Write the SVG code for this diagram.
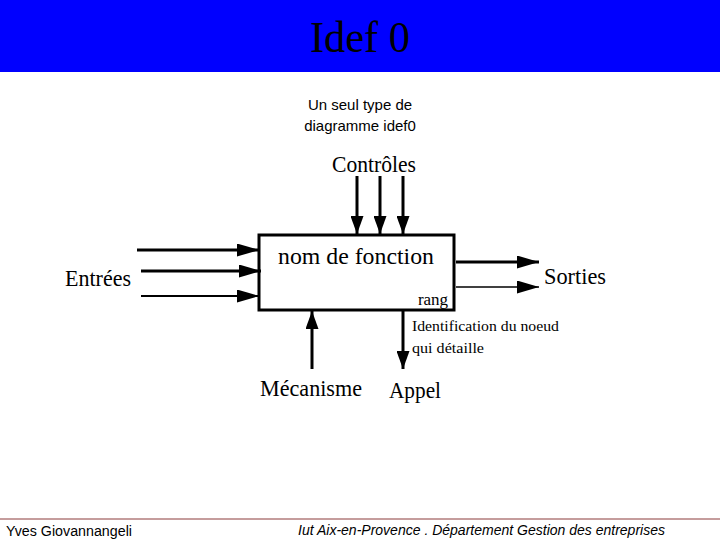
<svg xmlns="http://www.w3.org/2000/svg" width="720" height="540" viewBox="0 0 720 540">
<style>
.s{font-family:"Liberation Serif",serif;fill:#000}
.a{font-family:"Liberation Sans",sans-serif;fill:#000}
.c{stroke:#000;fill:none}
</style>
<defs>
<marker id="ah" viewBox="0 0 22 13" refX="22" refY="6.5" markerWidth="22" markerHeight="13" markerUnits="userSpaceOnUse" orient="auto"><path d="M0,0L22,6.5L0,13z" fill="#000"/></marker>
<marker id="av" viewBox="0 0 18 13" refX="18" refY="6.5" markerWidth="18" markerHeight="13" markerUnits="userSpaceOnUse" orient="auto"><path d="M0,0L18,6.5L0,13z" fill="#000"/></marker>
</defs>
<rect x="0" y="0" width="720" height="72" fill="#0000FF"/>
<text class="s" x="360" y="52" font-size="44" text-anchor="middle" textLength="100" lengthAdjust="spacingAndGlyphs">Idef 0</text>
<text class="a" x="360" y="110" font-size="15" text-anchor="middle">Un seul type de</text>
<text class="a" x="360" y="131" font-size="15" text-anchor="middle">diagramme idef0</text>
<g id="box">
<rect x="259" y="235" width="195" height="75" fill="#fff" stroke="#000" stroke-width="3"/>
<text class="s" x="356" y="264" font-size="24" text-anchor="middle" textLength="156" lengthAdjust="spacingAndGlyphs">nom de fonction</text>
<text class="s" x="433" y="305" font-size="17" text-anchor="middle">rang</text>
</g>
<g id="connectors">
<path class="c" stroke-width="3" d="M357,176V234" marker-end="url(#av)"/>
<path class="c" stroke-width="3" d="M380,176V234" marker-end="url(#av)"/>
<path class="c" stroke-width="3" d="M403,176V234" marker-end="url(#av)"/>
<path class="c" stroke-width="3" d="M137,250H259" marker-end="url(#ah)"/>
<path class="c" stroke-width="3" d="M141,271H261" marker-end="url(#ah)"/>
<path class="c" stroke-width="2" d="M141,296H259" marker-end="url(#ah)"/>
<path class="c" stroke-width="3" d="M456,262H539" marker-end="url(#ah)"/>
<path class="c" stroke-width="1.5" d="M456,287H539" marker-end="url(#ah)"/>
<path class="c" stroke-width="3" d="M312,369V311" marker-end="url(#av)"/>
<path class="c" stroke-width="3" d="M403,311V369" marker-end="url(#av)"/>
</g>
<g id="labels">
<text class="s" x="374" y="172" font-size="23" text-anchor="middle" textLength="84" lengthAdjust="spacingAndGlyphs">Contrôles</text>
<text class="s" x="98" y="286" font-size="23" text-anchor="middle" textLength="66" lengthAdjust="spacingAndGlyphs">Entrées</text>
<text class="s" x="575" y="284" font-size="23" text-anchor="middle" textLength="62" lengthAdjust="spacingAndGlyphs">Sorties</text>
<text class="s" x="412" y="331" font-size="15" textLength="147" lengthAdjust="spacingAndGlyphs">Identification du noeud</text>
<text class="s" x="412" y="353" font-size="15" textLength="72" lengthAdjust="spacingAndGlyphs">qui détaille</text>
<text class="s" x="311" y="396" font-size="23" text-anchor="middle" textLength="102" lengthAdjust="spacingAndGlyphs">Mécanisme</text>
<text class="s" x="415" y="398" font-size="23" text-anchor="middle" textLength="52" lengthAdjust="spacingAndGlyphs">Appel</text>
</g>
<line x1="0" y1="519" x2="720" y2="519" stroke="#8B3A3A" stroke-width="1"/>
<text class="a" x="6" y="536" font-size="14" textLength="126" lengthAdjust="spacingAndGlyphs">Yves Giovannangeli</text>
<text class="a" x="298" y="535" font-size="14" font-style="italic" textLength="367" lengthAdjust="spacingAndGlyphs">Iut Aix-en-Provence . Département Gestion des entreprises</text>
</svg>
